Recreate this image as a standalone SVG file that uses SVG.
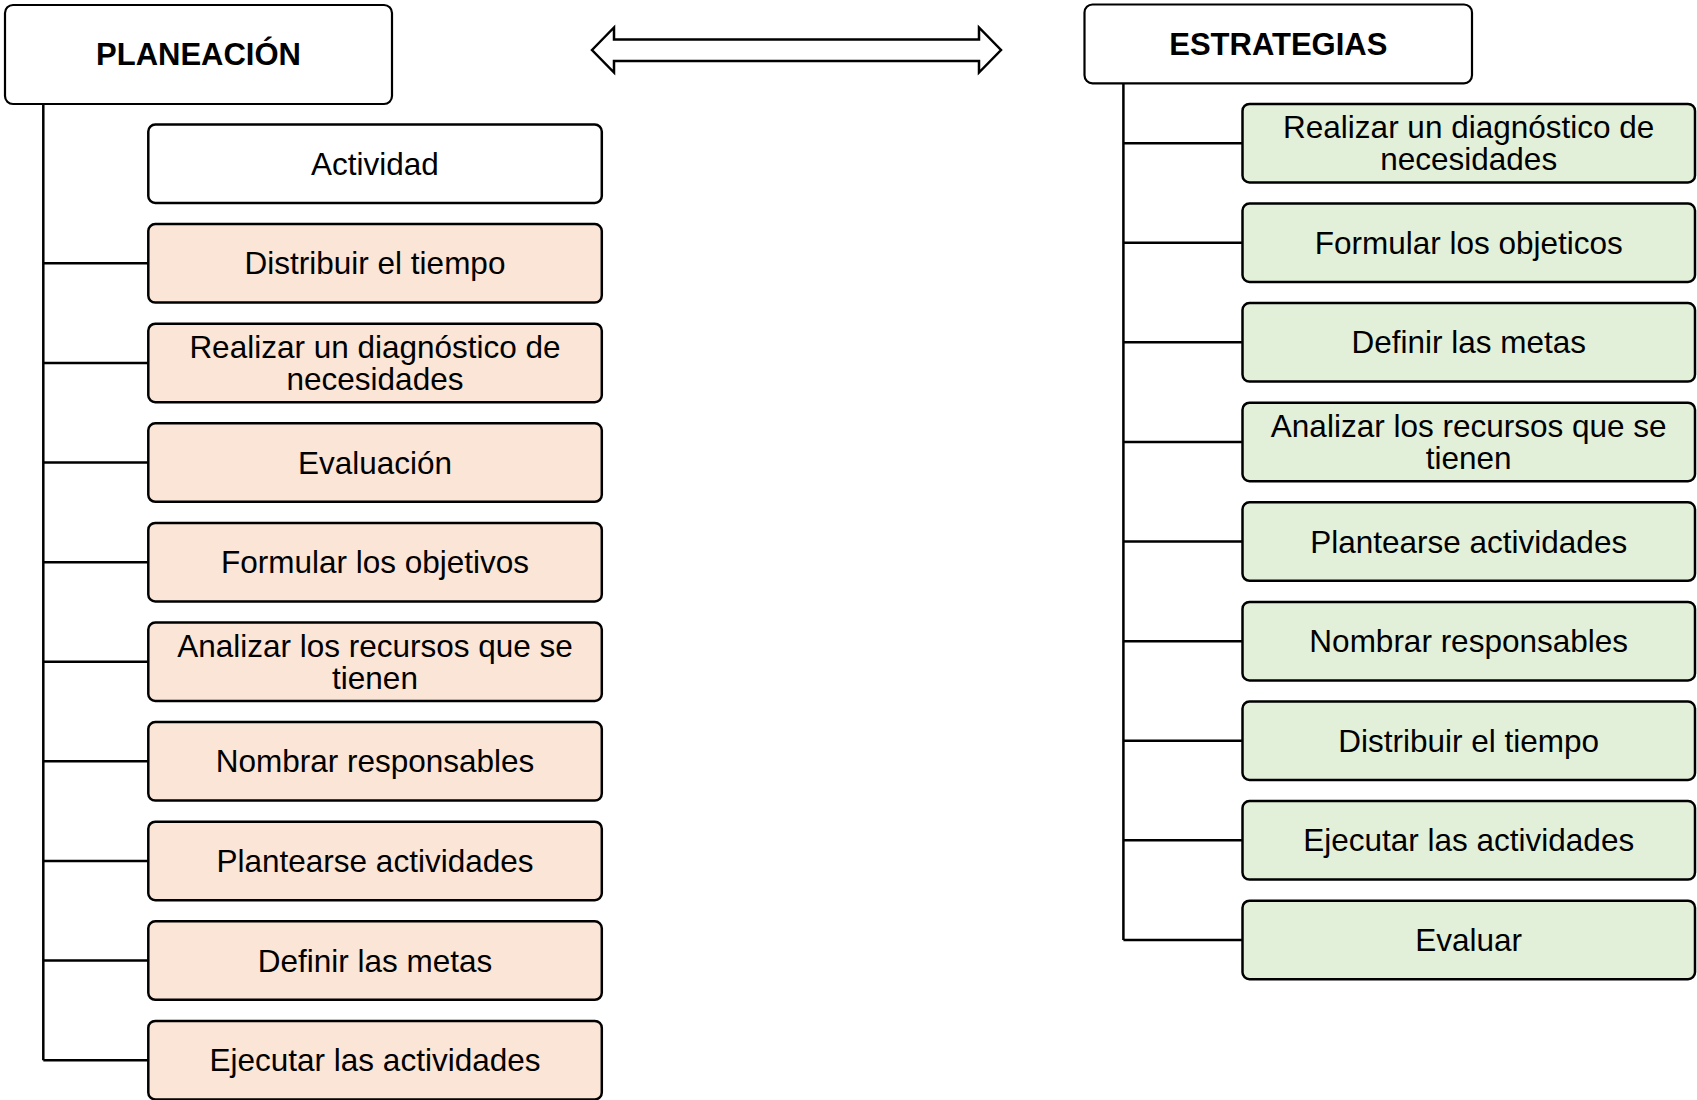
<svg xmlns="http://www.w3.org/2000/svg" width="1697" height="1100" viewBox="0 0 1697 1100">
<style>
  .title { fill: #ffffff; stroke: #000000; stroke-width: 2.2; }
  .plain { fill: #ffffff; stroke: #000000; stroke-width: 2.5; }
  .peach { fill: #FBE5D6; stroke: #000000; stroke-width: 2.5; }
  .green { fill: #E2F0D9; stroke: #000000; stroke-width: 2.5; }
  .conn { stroke: #000000; stroke-width: 2.5; fill: none; }
  .t { font-family: "Liberation Sans", Arial, sans-serif; font-size: 31.5px; fill: #000000; text-anchor: middle; }
  .tb { font-family: "Liberation Sans", Arial, sans-serif; font-size: 31px; font-weight: bold; fill: #000000; text-anchor: middle; }
</style>
<rect width="1697" height="1100" fill="#ffffff"/>

<g id="connectors">
  <path class="conn" d="M43.3,104 V1060.15 M43.3,263.35 H148.3 M43.3,362.95 H148.3 M43.3,462.55 H148.3 M43.3,562.15 H148.3 M43.3,661.75 H148.3 M43.3,761.35 H148.3 M43.3,860.95 H148.3 M43.3,960.55 H148.3 M43.3,1060.15 H148.3"/>
  <path class="conn" d="M1123.4,83.3 V939.95 M1123.4,143.15 H1242.5 M1123.4,242.75 H1242.5 M1123.4,342.35 H1242.5 M1123.4,441.95 H1242.5 M1123.4,541.55 H1242.5 M1123.4,641.15 H1242.5 M1123.4,740.75 H1242.5 M1123.4,840.35 H1242.5 M1123.4,939.95 H1242.5"/>
  <polygon id="double-arrow" points="592,50 614,27.5 614,39.5 979,39.5 979,27.5 1001,50 979,72.5 979,61 614,61 614,72.5" fill="#ffffff" stroke="#000000" stroke-width="2.5" stroke-linejoin="miter"/>
</g>

<g id="planeacion">
  <rect class="title" x="5" y="5" width="387" height="99" rx="8"/>
  <text class="tb" x="198.5" y="65">PLANEACIÓN</text>
</g>

<g id="p-actividad">
  <rect class="plain" x="148.3" y="124.5" width="453.5" height="78.5" rx="7"/>
  <text class="t" x="375" y="174.8">Actividad</text>
</g>
<g id="p-distribuir">
  <rect class="peach" x="148.3" y="224.1" width="453.5" height="78.5" rx="7"/>
  <text class="t" x="375" y="274.4">Distribuir el tiempo</text>
</g>
<g id="p-realizar">
  <rect class="peach" x="148.3" y="323.7" width="453.5" height="78.5" rx="7"/>
  <text class="t" x="375" y="358">Realizar un diagnóstico de</text>
  <text class="t" x="375" y="390">necesidades</text>
</g>
<g id="p-evaluacion">
  <rect class="peach" x="148.3" y="423.3" width="453.5" height="78.5" rx="7"/>
  <text class="t" x="375" y="473.6">Evaluación</text>
</g>
<g id="p-formular">
  <rect class="peach" x="148.3" y="522.9" width="453.5" height="78.5" rx="7"/>
  <text class="t" x="375" y="573.2">Formular los objetivos</text>
</g>
<g id="p-analizar">
  <rect class="peach" x="148.3" y="622.5" width="453.5" height="78.5" rx="7"/>
  <text class="t" x="375" y="656.8">Analizar los recursos que se</text>
  <text class="t" x="375" y="688.8">tienen</text>
</g>
<g id="p-nombrar">
  <rect class="peach" x="148.3" y="722.1" width="453.5" height="78.5" rx="7"/>
  <text class="t" x="375" y="772.4">Nombrar responsables</text>
</g>
<g id="p-plantearse">
  <rect class="peach" x="148.3" y="821.7" width="453.5" height="78.5" rx="7"/>
  <text class="t" x="375" y="872">Plantearse actividades</text>
</g>
<g id="p-definir">
  <rect class="peach" x="148.3" y="921.3" width="453.5" height="78.5" rx="7"/>
  <text class="t" x="375" y="971.6">Definir las metas</text>
</g>
<g id="p-ejecutar">
  <rect class="peach" x="148.3" y="1020.9" width="453.5" height="78.5" rx="7"/>
  <text class="t" x="375" y="1071.2">Ejecutar las actividades</text>
</g>

<g id="estrategias">
  <rect class="title" x="1084.5" y="4.5" width="387.5" height="78.8" rx="8"/>
  <text class="tb" x="1278.3" y="54.5">ESTRATEGIAS</text>
</g>

<g id="e-realizar">
  <rect class="green" x="1242.5" y="103.9" width="452.5" height="78.5" rx="7"/>
  <text class="t" x="1468.7" y="138.2">Realizar un diagnóstico de</text>
  <text class="t" x="1468.7" y="170.2">necesidades</text>
</g>
<g id="e-formular">
  <rect class="green" x="1242.5" y="203.5" width="452.5" height="78.5" rx="7"/>
  <text class="t" x="1468.7" y="253.8">Formular los objeticos</text>
</g>
<g id="e-definir">
  <rect class="green" x="1242.5" y="303.1" width="452.5" height="78.5" rx="7"/>
  <text class="t" x="1468.7" y="353.4">Definir las metas</text>
</g>
<g id="e-analizar">
  <rect class="green" x="1242.5" y="402.7" width="452.5" height="78.5" rx="7"/>
  <text class="t" x="1468.7" y="437">Analizar los recursos que se</text>
  <text class="t" x="1468.7" y="469">tienen</text>
</g>
<g id="e-plantearse">
  <rect class="green" x="1242.5" y="502.3" width="452.5" height="78.5" rx="7"/>
  <text class="t" x="1468.7" y="552.6">Plantearse actividades</text>
</g>
<g id="e-nombrar">
  <rect class="green" x="1242.5" y="601.9" width="452.5" height="78.5" rx="7"/>
  <text class="t" x="1468.7" y="652.2">Nombrar responsables</text>
</g>
<g id="e-distribuir">
  <rect class="green" x="1242.5" y="701.5" width="452.5" height="78.5" rx="7"/>
  <text class="t" x="1468.7" y="751.8">Distribuir el tiempo</text>
</g>
<g id="e-ejecutar">
  <rect class="green" x="1242.5" y="801.1" width="452.5" height="78.5" rx="7"/>
  <text class="t" x="1468.7" y="851.4">Ejecutar las actividades</text>
</g>
<g id="e-evaluar">
  <rect class="green" x="1242.5" y="900.7" width="452.5" height="78.5" rx="7"/>
  <text class="t" x="1468.7" y="951">Evaluar</text>
</g>
</svg>
